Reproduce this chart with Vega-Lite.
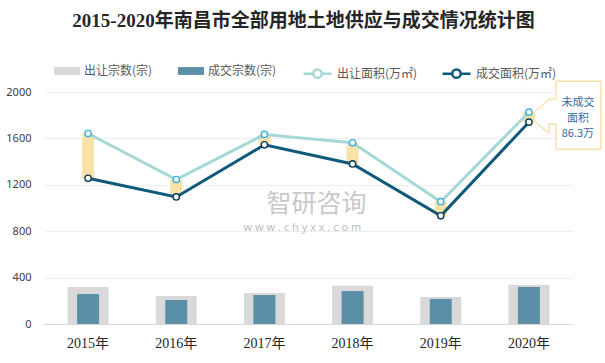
{
  "$schema": "https://vega.github.io/schema/vega-lite/v6.json",
  "width": 529,
  "height": 232,
  "autosize": {"type": "none"},
  "padding": {"left": 44, "top": 92, "right": 32, "bottom": 39},
  "background": "white",
  "title": {
    "text": "2015-2020年南昌市全部用地土地供应与成交情况统计图",
    "font": "Liberation Serif, Noto Sans CJK SC",
    "fontSize": 19,
    "fontWeight": "bold",
    "color": "#262626",
    "anchor": "middle",
    "frame": "group",
    "offset": 27,
    "dx": -5
  },
  "datasets": {
    "main": [
      {"year": "2015年", "sup_n": 320, "deal_n": 258, "sup_a": 1642, "deal_a": 1256},
      {"year": "2016年", "sup_n": 241, "deal_n": 207, "sup_a": 1245, "deal_a": 1095},
      {"year": "2017年", "sup_n": 267, "deal_n": 250, "sup_a": 1634, "deal_a": 1545},
      {"year": "2018年", "sup_n": 330, "deal_n": 284, "sup_a": 1562, "deal_a": 1380},
      {"year": "2019年", "sup_n": 233, "deal_n": 216, "sup_a": 1054, "deal_a": 933},
      {"year": "2020年", "sup_n": 339, "deal_n": 319, "sup_a": 1826, "deal_a": 1740}
    ],
    "note": [{"year": "2020年", "label": "未成交\n面积\n86.3万"}],
    "wm": [{"year": "2017年", "brand": "智研咨询", "site": "w w w . c h y x x . c o m"}]
  },
  "data": {"name": "main"},
  "encoding": {
    "x": {
      "field": "year",
      "type": "nominal",
      "sort": null,
      "scale": {"domain": ["2015年", "2016年", "2017年", "2018年", "2019年", "2020年"], "paddingInner": 0, "paddingOuter": 0},
      "axis": {
        "title": null,
        "labelAngle": 0,
        "ticks": false,
        "grid": false,
        "domainColor": "#D9D9D9",
        "domainWidth": 1,
        "labelFont": "Liberation Serif, Noto Sans CJK SC",
        "labelFontSize": 14,
        "labelColor": "#262626",
        "labelPadding": 12
      }
    }
  },
  "resolve": {"axis": {"y": "independent"}},
  "layer": [
    {
      "mark": {"type": "bar", "size": 41},
      "encoding": {
        "y": {
          "field": "sup_n",
          "type": "quantitative",
          "scale": {"domain": [0, 2000], "nice": false},
          "axis": {
            "title": null,
            "values": [0, 200, 400, 600, 800, 1000, 1200, 1400, 1600, 1800, 2000],
            "tickCount": 10,
            "format": "d",
            "labelOverlap": false,
            "ticks": false,
            "domain": false,
            "labelPadding": 13,
            "labelFont": "Noto Sans",
            "labelFontSize": 11,
            "labelColor": "#404040",
            "gridColor": "#EDEDED",
            "gridWidth": 1
          }
        },
        "color": {
          "datum": "出让宗数(宗)",
          "type": "nominal",
          "scale": {
            "domain": ["出让宗数(宗)", "成交宗数(宗)"],
            "range": ["#D9D9D9", "#5B8FA7"]
          },
          "legend": {
            "orient": "none",
            "legendX": 10,
            "legendY": -34,
            "direction": "horizontal",
            "columns": 2,
            "title": null,
            "padding": 0,
            "symbolType": "M-1,-0.3H1V0.3H-1Z",
            "symbolSize": 676,
            "symbolStrokeWidth": 0,
            "labelOffset": 4,
            "columnPadding": 25,
            "labelFont": "Noto Sans CJK SC",
            "labelFontSize": 12,
            "labelColor": "#595959"
          }
        }
      }
    },
    {
      "mark": {"type": "bar", "size": 22},
      "encoding": {
        "y": {"field": "deal_n", "type": "quantitative", "axis": null},
        "color": {"datum": "成交宗数(宗)", "type": "nominal"}
      }
    },
    {
      "data": {"name": "wm"},
      "mark": {"type": "text", "font": "Noto Sans CJK SC", "fontSize": 25, "color": "#C9C9C9", "align": "center", "baseline": "middle", "dx": 52},
      "encoding": {
        "y": {"datum": 1035, "type": "quantitative", "axis": null},
        "text": {"field": "brand"}
      }
    },
    {
      "data": {"name": "wm"},
      "mark": {"type": "text", "font": "Noto Sans", "fontSize": 11, "color": "#BDBDBD", "align": "center", "baseline": "middle", "dx": 38},
      "encoding": {
        "y": {"datum": 830, "type": "quantitative", "axis": null},
        "text": {"field": "site"}
      }
    },
    {
      "data": {"name": "note"},
      "mark": {"type": "point", "filled": true, "size": 4, "shape": "M27,-36H72V32H27V7H20V16L0,0L20,-18H27Z", "fill": "#ffffff", "stroke": "#F6D27F", "strokeWidth": 1, "opacity": 1},
      "encoding": {
        "y": {"datum": 1783, "type": "quantitative", "axis": null}
      }
    },
    {
      "mark": {"type": "bar", "size": 12, "color": "#F9E0A2", "opacity": 0.95},
      "encoding": {
        "y": {"field": "sup_a", "type": "quantitative", "axis": null},
        "y2": {"field": "deal_a"}
      }
    },
    {
      "mark": {"type": "line", "strokeWidth": 3},
      "encoding": {
        "y": {"field": "sup_a", "type": "quantitative", "axis": null},
        "stroke": {
          "datum": "出让面积(万㎡)",
          "type": "nominal",
          "scale": {
            "domain": ["出让面积(万㎡)", "成交面积(万㎡)"],
            "range": ["#A5D8D6", "#0F5A7A"]
          },
          "legend": {
            "orient": "none",
            "legendX": 258,
            "legendY": -34,
            "direction": "horizontal",
            "columns": 2,
            "title": null,
            "padding": 0,
            "symbolType": "M-1,0H-0.3M0.3,0H1M-0.3,0A0.3,0.3,0,1,1,0.3,0A0.3,0.3,0,1,1,-0.3,0",
            "symbolSize": 784,
            "symbolStrokeWidth": 2.5,
            "symbolFillColor": "#ffffff",
            "labelOffset": 4,
            "columnPadding": 19,
            "labelFont": "Noto Sans CJK SC",
            "labelFontSize": 12,
            "labelColor": "#595959"
          }
        }
      }
    },
    {
      "mark": {"type": "line", "strokeWidth": 3},
      "encoding": {
        "y": {"field": "deal_a", "type": "quantitative", "axis": null},
        "stroke": {"datum": "成交面积(万㎡)", "type": "nominal"}
      }
    },
    {
      "mark": {"type": "point", "filled": true, "size": 40, "fill": "#ffffff", "stroke": "#3DAEE0", "strokeWidth": 1.4, "opacity": 1},
      "encoding": {
        "y": {"field": "sup_a", "type": "quantitative", "axis": null}
      }
    },
    {
      "mark": {"type": "point", "filled": true, "size": 40, "fill": "#ffffff", "stroke": "#0B3D58", "strokeWidth": 1.4, "opacity": 1},
      "encoding": {
        "y": {"field": "deal_a", "type": "quantitative", "axis": null}
      }
    },
    {
      "data": {"name": "note"},
      "mark": {"type": "text", "font": "Noto Sans CJK SC", "fontSize": 11, "lineHeight": 15.5, "lineBreak": "\n", "color": "#2E6DA4", "align": "center", "baseline": "middle", "dx": 49, "dy": -14},
      "encoding": {
        "y": {"datum": 1783, "type": "quantitative", "axis": null},
        "text": {"field": "label"}
      }
    }
  ],
  "config": {
    "view": {"stroke": null},
    "font": "Noto Sans CJK SC",
    "axisY": {"labelOverlap": false, "tickCount": 10}
  }
}
